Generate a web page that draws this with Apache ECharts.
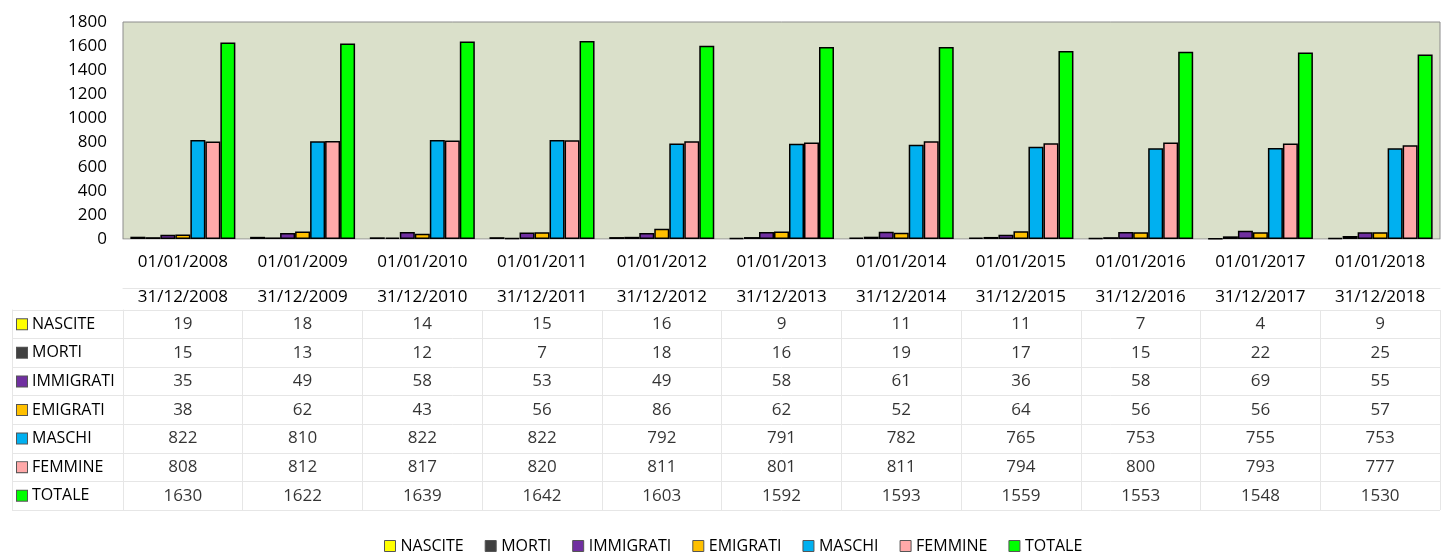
<!DOCTYPE html>
<html>
<head>
<meta charset="utf-8">
<script src="https://cdn.jsdelivr.net/npm/echarts@6/dist/echarts.min.js"></script>
<style>
html,body{margin:0;padding:0;background:#fff;}
#chart{width:1441px;height:553px;}
</style>
</head>
<body>
<div id="chart"></div>
<script>
const categoriesStart = ['01/01/2008','01/01/2009','01/01/2010','01/01/2011','01/01/2012','01/01/2013','01/01/2014','01/01/2015','01/01/2016','01/01/2017','01/01/2018'];
const categoriesEnd = ['31/12/2008','31/12/2009','31/12/2010','31/12/2011','31/12/2012','31/12/2013','31/12/2014','31/12/2015','31/12/2016','31/12/2017','31/12/2018'];
const nascite = [19,18,14,15,16,9,11,11,7,4,9];
const morti = [15,13,12,7,18,16,19,17,15,22,25];
const immigrati = [35,49,58,53,49,58,61,36,58,69,55];
const emigrati = [38,62,43,56,86,62,52,64,56,56,57];
const maschi = [822,810,822,822,792,791,782,765,753,755,753];
const femmine = [808,812,817,820,811,801,811,794,800,793,777];
const totale = [1630,1622,1639,1642,1603,1592,1593,1559,1553,1548,1530];
const seriesNames = ['NASCITE','MORTI','IMMIGRATI','EMIGRATI','MASCHI','FEMMINE','TOTALE'];
const seriesColors = ['#FFFF00','#404040','#7030A0','#FFC000','#00B0F0','#FFA9A9','#00FF00'];
const yTicks = {min:0, max:1800, interval:200};

const seriesValues = [nascite, morti, immigrati, emigrati, maschi, femmine, totale];
const FONT = '"Open Sans", sans-serif';
const LINE = '#e6e6e6';

const rich = {};
seriesNames.forEach((n,i)=>{
  rich['s'+i] = {width:10, height:10, backgroundColor:seriesColors[i], borderColor:'#555', borderWidth:1};
  rich['t'+i] = {fontSize:16, color:'#000', fontFamily:FONT, padding:[0,0,0,5]};
});

const barSeries = seriesNames.map((n,i)=>({
  name:n, type:'bar', xAxisIndex:0, yAxisIndex:0,
  data: seriesValues[i], barWidth:15, barGap:'0%',
  itemStyle:{color:seriesColors[i], borderColor:'#000', borderWidth:1.5}
}));

const cells = [];
seriesValues.forEach((arr,r)=>arr.forEach((v,c)=>cells.push([c,r,v])));

const option = {
  animation:false,
  textStyle:{fontFamily:FONT},
  legend:{
    data:seriesNames.map(n=>({name:n, icon:'rect'})), top:533, left:379, itemWidth:11, itemHeight:11, itemGap:21,
    itemStyle:{borderColor:'#555', borderWidth:1},
    textStyle:{fontSize:16, color:'#000', fontFamily:FONT}
  },
  grid:[
    {left:123, right:1, top:22, height:217, show:true, backgroundColor:'#dae0ca', borderColor:'#8c8c8c', borderWidth:1},
    {left:123, right:1, top:310, height:200},
    {left:12, width:111, top:310, height:200}
  ],
  xAxis:[
    {gridIndex:0, type:'category', data:categoriesStart,
     axisLine:{lineStyle:{color:'#d9d9d9'}}, axisTick:{length:6, lineStyle:{color:'#d9d9d9'}},
     axisLabel:{fontSize:17, color:'#000', margin:15, fontFamily:FONT}},
    {gridIndex:1, type:'category', position:'top', data:categoriesEnd,
     axisLine:{lineStyle:{color:LINE}}, axisTick:{length:22, lineStyle:{color:LINE}},
     axisLabel:{fontSize:17, color:'#000', margin:4, fontFamily:FONT},
     splitLine:{show:true, lineStyle:{color:LINE}}},
    {gridIndex:1, type:'category', position:'top', offset:22, data:categoriesEnd,
     axisLine:{show:true, lineStyle:{color:LINE}}, axisTick:{show:false}, axisLabel:{show:false}},
    {gridIndex:2, type:'value', show:false}
  ],
  yAxis:[
    {gridIndex:0, type:'value', min:yTicks.min, max:yTicks.max, interval:yTicks.interval,
     axisLine:{show:false}, axisTick:{show:false}, splitLine:{show:false},
     axisLabel:{fontSize:17, color:'#000', margin:16, fontFamily:FONT, formatter:v=>String(v)}},
    {gridIndex:1, type:'category', inverse:true, data:seriesNames,
     axisLine:{show:true, lineStyle:{color:LINE}}, axisTick:{show:false}, axisLabel:{show:false},
     splitLine:{show:true, lineStyle:{color:LINE}}},
    {gridIndex:2, type:'category', inverse:true, data:seriesNames,
     axisLine:{show:true, lineStyle:{color:LINE}}, axisTick:{show:false},
     splitLine:{show:true, lineStyle:{color:LINE}},
     axisLabel:{inside:true, margin:5, formatter:(v,i)=>'{s'+i+'|}{t'+i+'|'+v+'}', rich:rich}}
  ],
  series:[
    ...barSeries,
    {type:'scatter', xAxisIndex:1, yAxisIndex:1, data:cells, symbolSize:1,
     itemStyle:{color:'rgba(0,0,0,0)'}, silent:true,
     label:{show:true, position:'inside', formatter:p=>String(p.value[2]), fontSize:17, color:'#000', fontFamily:FONT}}
  ]
};
const chart = echarts.init(document.getElementById('chart'), null, {renderer:'canvas'});
chart.setOption(option);
</script>
</body>
</html>
